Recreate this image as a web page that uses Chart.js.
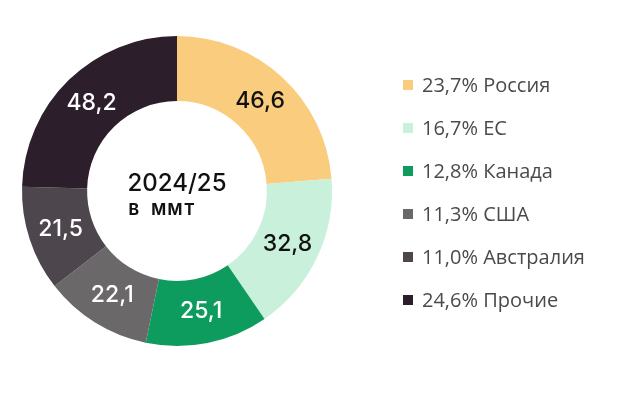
<!DOCTYPE html>
<html><head><meta charset="utf-8">
<script src="https://cdn.jsdelivr.net/npm/chart.js@4"></script>
<style>html,body{margin:0;padding:0;background:#fff}#wrap{width:643px;height:396px}</style>
</head><body><div id="wrap"><canvas id="c" width="643" height="396"></canvas></div>
<script>
const categories = ['Россия', 'ЕС', 'Канада', 'США', 'Австралия', 'Прочие'];
const values = [46.6, 32.8, 25.1, 22.1, 21.5, 48.2];
const colors = ['#F9CC7E', '#C8F0DB', '#0E9B5E', '#6B6869', '#4D464C', '#2D1E2C'];
const labelColors = ['#111', '#111', '#fff', '#fff', '#fff', '#fff'];
const centerTitle = '2024/25';
const centerSub = 'В  ММТ';

const fmt = v => v.toFixed(1).replace('.', ',');
const total = values.reduce((a, b) => a + b, 0);

const overlay = {
  id: 'overlay',
  afterDatasetsDraw(chart) {
    const ctx = chart.ctx;
    const meta = chart.getDatasetMeta(0);
    ctx.save();
    ctx.textAlign = 'center';
    ctx.textBaseline = 'middle';
    meta.data.forEach((arc, i) => {
      const p = arc.tooltipPosition();
      ctx.fillStyle = labelColors[i];
      ctx.font = '500 23px Inter';
      ctx.fillText(fmt(values[i]), p.x, p.y);
    });
    const cx = meta.data[0].x, cy = meta.data[0].y;
    ctx.fillStyle = '#111';
    ctx.textAlign = 'left';
    ctx.font = '500 24px Inter';
    const tw = ctx.measureText(centerTitle).width;
    const x0 = cx - tw / 2;
    ctx.fillText(centerTitle, x0, cy - 7);
    ctx.font = '700 16px Inter';
    ctx.letterSpacing = '1.5px';
    ctx.fillText(centerSub, x0 + 1, cy + 19);
    ctx.letterSpacing = '0px';
    // legend
    const lx = 403, ly0 = 85, step = 43;
    categories.forEach((c, i) => {
      const y = ly0 + i * step;
      ctx.fillStyle = colors[i];
      ctx.fillRect(lx, y - 5, 10, 10);
      ctx.fillStyle = '#4a4a4a';
      ctx.font = '20px "Open Sans"';
      ctx.fillText(fmt(values[i] / total * 100) + '% ' + c, lx + 19, y + 1);
    });
    ctx.restore();
  }
};

new Chart(document.getElementById('c'), {
  type: 'doughnut',
  data: { labels: categories, datasets: [{ data: values, backgroundColor: colors, borderWidth: 0 }] },
  options: {
    responsive: false,
    animation: false,
    cutout: '58%',
    layout: { padding: { left: 22, right: 311, top: 36, bottom: 50 } },
    plugins: { legend: { display: false }, tooltip: { enabled: false } }
  },
  plugins: [overlay]
});
</script></body></html>
